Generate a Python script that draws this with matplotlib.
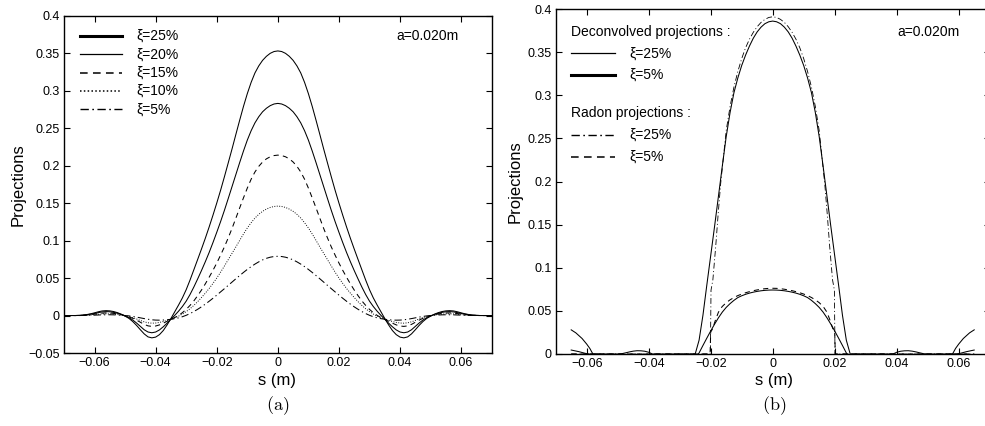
import numpy as np
import matplotlib
matplotlib.use('Agg')
import matplotlib.pyplot as plt
from matplotlib.ticker import FuncFormatter, MultipleLocator

plt.rcParams['font.family'] = ['Liberation Sans', 'DejaVu Sans']
plt.rcParams['mathtext.fontset'] = 'cm'

# (a) projections vs s (m) for several damping values xi
s_a = np.round(np.arange(-0.07, 0.07001, 0.00125), 5)

proj_25 = [0.0, 0.0, 0.0, 0.0, 0.0002, 0.0006, 0.0013,
           0.0023, 0.0036, 0.0050, 0.0061, 0.0065, 0.0062, 0.0053, 0.0038, 0.0018, -0.0008,
           -0.0038, -0.0080, -0.0132, -0.0190, -0.0245, -0.0285, -0.0298, -0.0288, -0.0255, -0.0200,
           -0.0125, -0.0040, 0.0050, 0.0140, 0.0235, 0.0345, 0.0473, 0.0610, 0.0748, 0.0887,
           0.1030, 0.1180, 0.1337, 0.1500, 0.1670, 0.1850, 0.2035, 0.2222, 0.2415, 0.2605,
           0.2790, 0.2960, 0.3110, 0.3236, 0.3330, 0.3404, 0.3458, 0.3498, 0.3522,
           0.3530,
           0.3522, 0.3498, 0.3458, 0.3404, 0.3330, 0.3236, 0.3110, 0.2960, 0.2790,
           0.2605, 0.2415, 0.2222, 0.2035, 0.1850, 0.1670, 0.1500, 0.1337, 0.1180, 0.1030,
           0.0887, 0.0748, 0.0610, 0.0473, 0.0345, 0.0235, 0.0140, 0.0050, -0.0040, -0.0125,
           -0.0200, -0.0255, -0.0288, -0.0298, -0.0285, -0.0245, -0.0190, -0.0132, -0.0080, -0.0038,
           -0.0008, 0.0018, 0.0038, 0.0053, 0.0062, 0.0065, 0.0061, 0.0050, 0.0036, 0.0023,
           0.0013, 0.0006, 0.0002, 0.0, 0.0, 0.0, 0.0]
proj_20 = [0.0, 0.0, 0.0, 0.0, 0.0001, 0.0004, 0.0010,
           0.0018, 0.0028, 0.0039, 0.0048, 0.0052, 0.0050, 0.0042, 0.0030, 0.0014, -0.0006,
           -0.0028, -0.0060, -0.0100, -0.0145, -0.0190, -0.0220, -0.0230, -0.0220, -0.0192, -0.0150,
           -0.0102, -0.0050, 0.0002, 0.0058, 0.0120, 0.0192, 0.0280, 0.0380, 0.0488, 0.0600,
           0.0717, 0.0840, 0.0972, 0.1110, 0.1252, 0.1402, 0.1560, 0.1720, 0.1880, 0.2040,
           0.2195, 0.2340, 0.2465, 0.2570, 0.2652, 0.2718, 0.2765, 0.2800, 0.2822,
           0.2830,
           0.2822, 0.2800, 0.2765, 0.2718, 0.2652, 0.2570, 0.2465, 0.2340, 0.2195,
           0.2040, 0.1880, 0.1720, 0.1560, 0.1402, 0.1252, 0.1110, 0.0972, 0.0840, 0.0717,
           0.0600, 0.0488, 0.0380, 0.0280, 0.0192, 0.0120, 0.0058, 0.0002, -0.0050, -0.0102,
           -0.0150, -0.0192, -0.0220, -0.0230, -0.0220, -0.0190, -0.0145, -0.0100, -0.0060, -0.0028,
           -0.0006, 0.0014, 0.0030, 0.0042, 0.0050, 0.0052, 0.0048, 0.0039, 0.0028, 0.0018,
           0.0010, 0.0004, 0.0001, 0.0, 0.0, 0.0, 0.0]
proj_15 = [0.0, 0.0, 0.0, 0.0, 0.0001, 0.0003, 0.0007,
           0.0012, 0.0019, 0.0026, 0.0032, 0.0035, 0.0034, 0.0029, 0.0021, 0.0010, -0.0003,
           -0.0017, -0.0037, -0.0062, -0.0090, -0.0118, -0.0138, -0.0145, -0.0140, -0.0125, -0.0102,
           -0.0077, -0.0052, -0.0027, 0.0002, 0.0038, 0.0082, 0.0135, 0.0195, 0.0265, 0.0340,
           0.0422, 0.0510, 0.0602, 0.0700, 0.0805, 0.0915, 0.1035, 0.1162, 0.1298, 0.1435,
           0.1570, 0.1700, 0.1818, 0.1915, 0.1990, 0.2048, 0.2090, 0.2118, 0.2134,
           0.2140,
           0.2134, 0.2118, 0.2090, 0.2048, 0.1990, 0.1915, 0.1818, 0.1700, 0.1570,
           0.1435, 0.1298, 0.1162, 0.1035, 0.0915, 0.0805, 0.0700, 0.0602, 0.0510, 0.0422,
           0.0340, 0.0265, 0.0195, 0.0135, 0.0082, 0.0038, 0.0002, -0.0027, -0.0052, -0.0077,
           -0.0102, -0.0125, -0.0140, -0.0145, -0.0138, -0.0118, -0.0090, -0.0062, -0.0037, -0.0017,
           -0.0003, 0.0010, 0.0021, 0.0029, 0.0034, 0.0035, 0.0032, 0.0026, 0.0019, 0.0012,
           0.0007, 0.0003, 0.0001, 0.0, 0.0, 0.0, 0.0]
proj_10 = [0.0, 0.0, 0.0, 0.0, 0.0001, 0.0002, 0.0005,
           0.0008, 0.0012, 0.0017, 0.0021, 0.0023, 0.0022, 0.0019, 0.0014, 0.0007, -0.0002,
           -0.0013, -0.0028, -0.0046, -0.0066, -0.0084, -0.0097, -0.0102, -0.0100, -0.0092, -0.0080,
           -0.0066, -0.0050, -0.0030, -0.0008, 0.0020, 0.0052, 0.0090, 0.0135, 0.0185, 0.0240,
           0.0298, 0.0360, 0.0428, 0.0500, 0.0578, 0.0660, 0.0745, 0.0830, 0.0915, 0.1002,
           0.1088, 0.1168, 0.1238, 0.1300, 0.1350, 0.1390, 0.1420, 0.1442, 0.1455,
           0.1460,
           0.1455, 0.1442, 0.1420, 0.1390, 0.1350, 0.1300, 0.1238, 0.1168, 0.1088,
           0.1002, 0.0915, 0.0830, 0.0745, 0.0660, 0.0578, 0.0500, 0.0428, 0.0360, 0.0298,
           0.0240, 0.0185, 0.0135, 0.0090, 0.0052, 0.0020, -0.0008, -0.0030, -0.0050, -0.0066,
           -0.0080, -0.0092, -0.0100, -0.0102, -0.0097, -0.0084, -0.0066, -0.0046, -0.0028, -0.0013,
           -0.0002, 0.0007, 0.0014, 0.0019, 0.0022, 0.0023, 0.0021, 0.0017, 0.0012, 0.0008,
           0.0005, 0.0002, 0.0001, 0.0, 0.0, 0.0, 0.0]
proj_5 = [0.0, 0.0, 0.0, 0.0, 0.0, 0.0001, 0.0002,
          0.0003, 0.0005, 0.0007, 0.0009, 0.0010, 0.0010, 0.0009, 0.0007, 0.0004, 0.0000,
          -0.0005, -0.0012, -0.0021, -0.0031, -0.0041, -0.0050, -0.0057, -0.0061, -0.0062, -0.0060,
          -0.0056, -0.0050, -0.0042, -0.0031, -0.0016, 0.0003, 0.0026, 0.0053, 0.0083, 0.0116,
          0.0152, 0.0190, 0.0230, 0.0272, 0.0315, 0.0358, 0.0402, 0.0446, 0.0490, 0.0533,
          0.0575, 0.0615, 0.0652, 0.0686, 0.0716, 0.0742, 0.0763, 0.0778, 0.0787,
          0.0790,
          0.0787, 0.0778, 0.0763, 0.0742, 0.0716, 0.0686, 0.0652, 0.0615, 0.0575,
          0.0533, 0.0490, 0.0446, 0.0402, 0.0358, 0.0315, 0.0272, 0.0230, 0.0190, 0.0152,
          0.0116, 0.0083, 0.0053, 0.0026, 0.0003, -0.0016, -0.0031, -0.0042, -0.0050, -0.0056,
          -0.0060, -0.0062, -0.0061, -0.0057, -0.0050, -0.0041, -0.0031, -0.0021, -0.0012, -0.0005,
          0.0000, 0.0004, 0.0007, 0.0009, 0.0010, 0.0010, 0.0009, 0.0007, 0.0005, 0.0003,
          0.0002, 0.0001, 0.0, 0.0, 0.0, 0.0, 0.0]

# (b) deconvolved projections
s_dec25 = [-0.065, -0.0635, -0.0615, -0.06, -0.059, -0.058, -0.05, -0.04875, -0.0475, -0.04625,
           -0.045, -0.04375, -0.0425, -0.04125, -0.04, -0.0388, -0.025, -0.02375, -0.0225, -0.02125,
           -0.02, -0.01875, -0.0175, -0.01625, -0.015, -0.01375, -0.0125, -0.01125, -0.01, -0.00875,
           -0.0075, -0.00625, -0.005, -0.00375, -0.0025, -0.00125, 0.0, 0.00125, 0.0025, 0.00375,
           0.005, 0.00625, 0.0075, 0.00875, 0.01, 0.01125, 0.0125, 0.01375, 0.015, 0.01625,
           0.0175, 0.01875, 0.02, 0.02125, 0.0225, 0.02375, 0.025, 0.0388, 0.04, 0.04125,
           0.0425, 0.04375, 0.045, 0.04625, 0.0475, 0.04875, 0.05, 0.058, 0.059, 0.06,
           0.0615, 0.0635, 0.065]
deconv_25 = [0.0280, 0.0245, 0.0180, 0.0115, 0.0065, 0.0, 0.0, 0.0003, 0.0013, 0.0024,
             0.0033, 0.0038, 0.0037, 0.0032, 0.0020, 0.0, 0.0, 0.0160, 0.0450, 0.0800,
             0.1140, 0.1480, 0.1830, 0.2180, 0.2520, 0.2800, 0.3030, 0.3200, 0.3345, 0.3465,
             0.3570, 0.3662, 0.3735, 0.3790, 0.3830, 0.3852, 0.3860, 0.3852, 0.3830, 0.3790,
             0.3735, 0.3662, 0.3570, 0.3465, 0.3345, 0.3200, 0.3030, 0.2800, 0.2520, 0.2180,
             0.1830, 0.1480, 0.1140, 0.0800, 0.0450, 0.0160, 0.0, 0.0, 0.0020, 0.0032,
             0.0037, 0.0038, 0.0033, 0.0024, 0.0013, 0.0003, 0.0, 0.0, 0.0065, 0.0115,
             0.0180, 0.0245, 0.0280]

s_dec5 = [-0.065, -0.0625, -0.0605, -0.0595, -0.025, -0.02375, -0.0225, -0.02125, -0.02, -0.01875,
          -0.0175, -0.01625, -0.015, -0.01375, -0.0125, -0.01125, -0.01, -0.00875, -0.0075, -0.00625,
          -0.005, -0.00375, -0.0025, -0.00125, 0.0, 0.00125, 0.0025, 0.00375, 0.005, 0.00625,
          0.0075, 0.00875, 0.01, 0.01125, 0.0125, 0.01375, 0.015, 0.01625, 0.0175, 0.01875,
          0.02, 0.02125, 0.0225, 0.02375, 0.025, 0.0595, 0.0605, 0.0625, 0.065]
deconv_5 = [0.0046, 0.0027, 0.0008, 0.0, -0.0050, 0.0012, 0.0099, 0.0184, 0.0267, 0.0346,
            0.0420, 0.0486, 0.0540, 0.0584, 0.0622, 0.0654, 0.0675, 0.0692, 0.0706, 0.0717,
            0.0726, 0.0733, 0.0738, 0.0741, 0.0742, 0.0741, 0.0738, 0.0733, 0.0726, 0.0717,
            0.0706, 0.0692, 0.0675, 0.0654, 0.0622, 0.0584, 0.0540, 0.0486, 0.0420, 0.0346,
            0.0267, 0.0184, 0.0099, 0.0012, -0.0050, 0.0, 0.0008, 0.0027, 0.0046]

# (b) Radon projections
s_rad25 = [-0.065, -0.0201, -0.0199, -0.0193, -0.0184, -0.0176, -0.0168, -0.01625, -0.015, -0.01375,
           -0.0125, -0.01125, -0.01, -0.00875, -0.0075, -0.00625, -0.005, -0.00375, -0.0025, -0.00125,
           0.0,
           0.00125, 0.0025, 0.00375, 0.005, 0.00625, 0.0075, 0.00875, 0.01, 0.01125, 0.0125,
           0.01375, 0.015, 0.01625, 0.0168, 0.0176, 0.0184, 0.0193, 0.0199, 0.0201, 0.065]
radon_25 = [0.0, 0.0, 0.074, 0.086, 0.124, 0.162, 0.197, 0.216, 0.259, 0.287,
            0.3095, 0.3275, 0.3425, 0.355, 0.365, 0.373, 0.3795, 0.3845, 0.388, 0.3902,
            0.391,
            0.3902, 0.388, 0.3845, 0.3795, 0.373, 0.365, 0.355, 0.3425, 0.3275, 0.3095,
            0.287, 0.259, 0.216, 0.197, 0.162, 0.124, 0.086, 0.074, 0.0, 0.0]

s_rad5 = [-0.065, -0.0202, -0.0200, -0.0195, -0.0190, -0.0184, -0.0175, -0.0163, -0.015, -0.01375,
          -0.0125, -0.01125, -0.01, -0.00875, -0.0075, -0.00625, -0.005, -0.00375, -0.0025, -0.00125,
          0.0,
          0.00125, 0.0025, 0.00375, 0.005, 0.00625, 0.0075, 0.00875, 0.01, 0.01125, 0.0125,
          0.01375, 0.015, 0.0163, 0.0175, 0.0184, 0.0190, 0.0195, 0.0200, 0.0202, 0.065]
radon_5 = [0.0, 0.0, 0.0255, 0.0285, 0.0335, 0.0400, 0.0485, 0.0550, 0.0595, 0.0628,
           0.0655, 0.0677, 0.0695, 0.0710, 0.0723, 0.0734, 0.0743, 0.0751, 0.0757, 0.0761,
           0.0762,
           0.0761, 0.0757, 0.0751, 0.0743, 0.0734, 0.0723, 0.0710, 0.0695, 0.0677, 0.0655,
           0.0628, 0.0595, 0.0550, 0.0485, 0.0400, 0.0335, 0.0285, 0.0255, 0.0, 0.0]

LW = 0.75
DASH = (0, (5, 4))
DOT = (0, (1, 1.6))
DASHDOT = (0, (7, 3, 1.2, 3))
W, H = 985.0, 426.0


def fmt(v, pos):
    v = round(v, 4) + 0.0
    return ('%g' % v).replace('-', '\u2212')


def style_axes(ax):
    ax.tick_params(direction='in', top=True, right=True, length=4.5, width=0.8,
                   labelsize=9, pad=3)
    ax.xaxis.set_major_locator(MultipleLocator(0.02))
    ax.yaxis.set_major_locator(MultipleLocator(0.05))
    ax.xaxis.set_major_formatter(FuncFormatter(fmt))
    ax.yaxis.set_major_formatter(FuncFormatter(fmt))
    for sp in ax.spines.values():
        sp.set_linewidth(1.0)


def key(ax, y, ls, lw, label, x0=0.037, x1=0.136, xt=0.170):
    ax.plot([x0, x1], [y, y], transform=ax.transAxes, color='k', ls=ls, lw=lw,
            clip_on=False)
    ax.text(xt, y, label, transform=ax.transAxes, fontsize=10, va='center', ha='left')


fig = plt.figure(figsize=(W / 100, H / 100), dpi=100)

# ---- panel (a)
ax1 = fig.add_axes([64 / W, (H - 353) / H, 427.7 / W, 337.3 / H])
ax1.plot(s_a, proj_25, color='k', lw=LW)
ax1.plot(s_a, proj_20, color='k', lw=LW)
ax1.plot(s_a, proj_15, color='k', lw=LW, ls=DASH)
ax1.plot(s_a, proj_10, color='k', lw=LW * 0.9, ls=DOT)
ax1.plot(s_a, proj_5, color='k', lw=LW, ls=DASHDOT)
ax1.set_xlim(-0.07, 0.07)
ax1.set_ylim(-0.05, 0.4)
style_axes(ax1)

rows_a = [0.940, 0.886, 0.831, 0.777, 0.722]
key(ax1, rows_a[0], '-', 2.2, '\u03be=25%')
key(ax1, rows_a[1], '-', 0.9, '\u03be=20%')
key(ax1, rows_a[2], (0, (5, 3.5)), 1.1, '\u03be=15%')
key(ax1, rows_a[3], (0, (1, 1.5)), 1.1, '\u03be=10%')
key(ax1, rows_a[4], (0, (6, 2.5, 1.2, 2.5)), 1.0, '\u03be=5%')
ax1.text(0.9235, 0.940, 'a=0.020m', transform=ax1.transAxes, fontsize=10,
         ha='right', va='center')

# ---- panel (b)
ax2 = fig.add_axes([555.7 / W, (H - 354) / H, 434 / W, 345 / H])
ax2.plot(s_dec25, deconv_25, color='k', lw=LW)
ax2.plot(s_dec5, deconv_5, color='k', lw=LW)
ax2.plot(s_rad25, radon_25, color='k', lw=LW * 0.8, ls=DASHDOT)
ax2.plot(s_rad5, radon_5, color='k', lw=LW, ls=DASH)
ax2.set_xlim(-0.07, 0.07)
ax2.set_ylim(0, 0.4)
style_axes(ax2)

ax2.text(0.035, 0.9325, 'Deconvolved projections :', transform=ax2.transAxes,
         fontsize=10, va='center', ha='left')
key(ax2, 0.8716, '-', 0.9, '\u03be=25%', 0.035, 0.137, 0.1696)
key(ax2, 0.8087, '-', 2.2, '\u03be=5%', 0.035, 0.137, 0.1696)
ax2.text(0.035, 0.6994, 'Radon projections :', transform=ax2.transAxes,
         fontsize=10, va='center', ha='left')
key(ax2, 0.6348, (0, (6, 2.5, 1.2, 2.5)), 1.0, '\u03be=25%', 0.035, 0.137, 0.1696)
key(ax2, 0.5719, (0, (5, 3.5)), 1.1, '\u03be=5%', 0.035, 0.137, 0.1696)
ax2.text(0.9316, 0.9325, 'a=0.020m', transform=ax2.transAxes, fontsize=10,
         ha='right', va='center')

# axis labels and sub-captions
for xc, yc, yl_x, yl_y, tag in [(277.3, 380, 18.3, 185, '(a)'),
                                 (773.7, 380, 515, 181.7, '(b)')]:
    fig.text(xc / W, 1 - yc / H, 's (m)', fontsize=12, ha='center', va='center')
    fig.text(xc / W, 1 - 406 / H, r'$\mathrm{%s}$' % tag, fontsize=13,
             ha='center', va='center')
    fig.text(yl_x / W, 1 - yl_y / H, 'Projections', fontsize=12, rotation=90,
             ha='center', va='center')

fig.savefig('out.png', dpi=100)
